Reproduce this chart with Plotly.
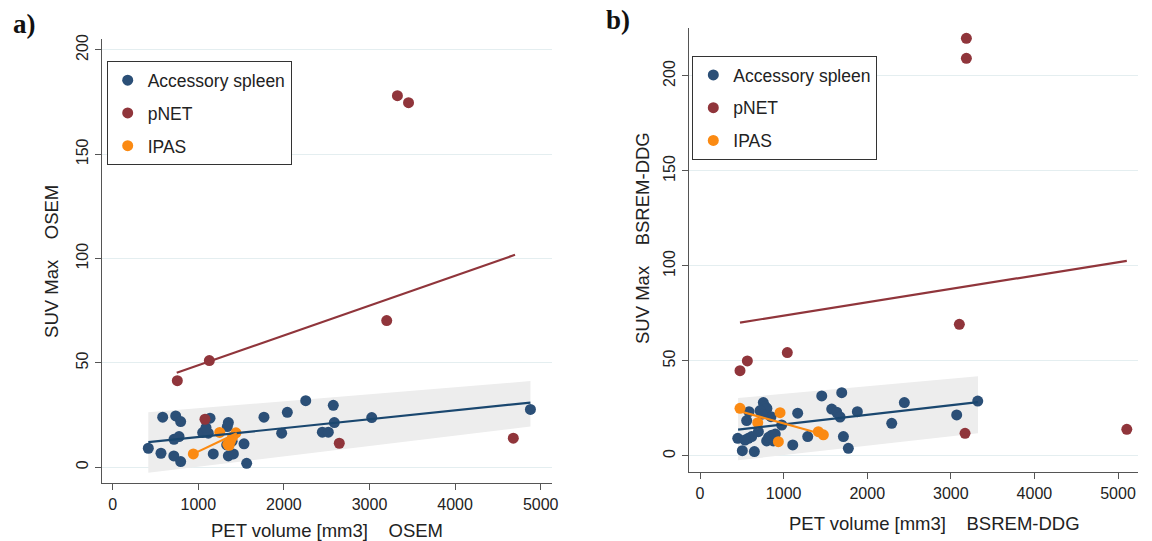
import plotly.graph_objects as go

# ---------------- data: panel a (OSEM) ----------------
a_spleen_x = [416, 584, 564, 736, 794, 716, 775, 714, 794, 1137, 1051, 1117, 1175, 1351, 1339,
              1332, 1351, 1410, 1534, 1565, 1767, 1974, 2040, 2255, 2449, 2519, 2577, 2589, 3026,
              4880, 1365, 1395, 1090]
a_spleen_y = [9.1, 24.0, 6.7, 24.6, 21.9, 13.4, 14.7, 5.4, 2.7, 23.5, 16.6, 16.3, 6.4, 21.4, 19.5,
              10.7, 5.4, 6.4, 11.2, 1.9, 24.0, 16.3, 26.3, 31.9, 16.8, 16.8, 29.7, 21.4, 23.8,
              27.7, 11.5, 12.5, 19.0]
a_pnet_x = [755, 1129, 3201, 1078, 2647, 4680, 3326, 3456]
a_pnet_y = [41.5, 51.1, 70.3, 23.0, 11.5, 13.9, 178.1, 174.7]
a_ipas_x = [942, 1250, 1440, 1400, 1375, 1345, 1360]
a_ipas_y = [6.4, 16.7, 16.5, 14.5, 12.5, 11.0, 10.5]
a_fit_spleen_x = [416, 4880]
a_fit_spleen_y = [12.0, 31.0]
a_fit_pnet_x = [748, 4700]
a_fit_pnet_y = [45.3, 101.8]
a_fit_ipas_x = [942, 1449]
a_fit_ipas_y = [6.4, 16.3]
a_band_x = [416, 4880]
a_band_lo = [-2.6, 19.5]
a_band_hi = [26.3, 41.3]

# ---------------- data: panel b (BSREM-DDG) ----------------
b_spleen_x = [451, 506, 650, 558, 586, 757, 780, 800, 718, 698, 578, 618, 538, 797, 857, 877, 849,
              977, 1109, 1168, 1288, 1456, 1575, 1635, 1675, 1695, 1715, 1774, 1882, 2293, 2444,
              3070, 3322, 740, 820, 900]
b_spleen_y = [9.3, 2.8, 2.3, 18.6, 23.3, 28.1, 26.0, 25.0, 23.9, 12.8, 9.3, 10.2, 8.4, 7.9, 10.9,
              7.9, 20.7, 16.3, 5.8, 22.5, 10.2, 31.6, 24.7, 23.0, 20.5, 33.3, 10.2, 4.0, 23.3, 17.2,
              28.1, 21.6, 28.9, 22.0, 9.8, 11.5]
b_pnet_x = [478, 566, 1044, 3102, 3170, 5105, 3186, 3186]
b_pnet_y = [44.9, 50.0, 54.4, 69.3, 11.9, 14.0, 219.8, 209.3]
b_ipas_x = [478, 690, 957, 937, 1415, 1475]
b_ipas_y = [25.1, 17.5, 22.8, 7.5, 12.8, 11.1]
b_fit_spleen_x = [455, 3325]
b_fit_spleen_y = [13.9, 28.3]
b_fit_pnet_x = [478, 5105]
b_fit_pnet_y = [70.2, 102.7]
b_fit_ipas_x = [478, 1475]
b_fit_ipas_y = [23.5, 11.3]
b_band_x = [455, 3325]
b_band_lo = [-2.3, 12.0]
b_band_hi = [30.5, 42.0]

x_ticks = [0, 1000, 2000, 3000, 4000, 5000]
y_ticks = [0, 50, 100, 150, 200]
group_names = ["Accessory spleen", "pNET", "IPAS"]

# ---------------- styles ----------------
C_BLUE_M = "#2b4f77"
C_BLUE_L = "#1a476f"
C_RED = "#90353b"
C_ORANGE = "#fb8a12"
C_BAND = "#ededed"
C_AXIS = "#555555"
C_GRID = "#e4eef0"
SANS = "Liberation Sans, Arial, Helvetica, sans-serif"
SERIF = "Liberation Serif, Times New Roman, serif"

fig = go.Figure()


def add_panel(xa, ya, leg, tag, band_x, band_lo, band_hi, sx, sy, px, py, ix, iy,
              fsx, fsy, fpx, fpy, fix, fiy):
    fig.add_trace(go.Scatter(
        x=list(band_x) + list(band_x)[::-1], y=list(band_hi) + list(band_lo)[::-1],
        fill="toself", fillcolor=C_BAND, line=dict(width=0), mode="lines",
        hoverinfo="skip", showlegend=False, xaxis=xa, yaxis=ya))
    for name, xs, ys, col in zip(group_names, [sx, px, ix], [sy, py, iy],
                                 [C_BLUE_M, C_RED, C_ORANGE]):
        fig.add_trace(go.Scatter(
            x=xs, y=ys, mode="markers", name=name,
            marker=dict(color=col, size=11, line=dict(width=0)),
            legend=leg, legendgroup=tag + name, showlegend=True,
            xaxis=xa, yaxis=ya))
    for xs, ys, col in zip([fsx, fpx, fix], [fsy, fpy, fiy], [C_BLUE_L, C_RED, C_ORANGE]):
        fig.add_trace(go.Scatter(
            x=xs, y=ys, mode="lines", line=dict(color=col, width=2.2),
            showlegend=False, hoverinfo="skip", xaxis=xa, yaxis=ya))


add_panel("x", "y", "legend", "a", a_band_x, a_band_lo, a_band_hi,
          a_spleen_x, a_spleen_y, a_pnet_x, a_pnet_y, a_ipas_x, a_ipas_y,
          a_fit_spleen_x, a_fit_spleen_y, a_fit_pnet_x, a_fit_pnet_y, a_fit_ipas_x, a_fit_ipas_y)
add_panel("x2", "y2", "legend2", "b", b_band_x, b_band_lo, b_band_hi,
          b_spleen_x, b_spleen_y, b_pnet_x, b_pnet_y, b_ipas_x, b_ipas_y,
          b_fit_spleen_x, b_fit_spleen_y, b_fit_pnet_x, b_fit_pnet_y, b_fit_ipas_x, b_fit_ipas_y)

W, H = 1152, 541
NB = "\u00a0"
TITLE_FONT = dict(family=SANS, size=18.5, color="#222")


def xaxis_cfg(dom, rng, title, anchor):
    return dict(domain=dom, range=rng, anchor=anchor, tickvals=x_ticks,
                showline=True, linecolor=C_AXIS, linewidth=1.3,
                ticks="outside", ticklen=6, tickwidth=1.3, tickcolor=C_AXIS,
                showgrid=False, zeroline=False, automargin=False,
                tickfont=dict(family=SANS, size=16, color="#222"),
                title=dict(text=title, font=TITLE_FONT, standoff=12))


def yaxis_cfg(dom, rng, title, anchor):
    return dict(domain=dom, range=rng, anchor=anchor, tickvals=y_ticks, tickangle=-90,
                showline=True, linecolor=C_AXIS, linewidth=1.3,
                ticks="outside", ticklen=6, tickwidth=1.3, tickcolor=C_AXIS,
                showgrid=True, gridcolor=C_GRID, gridwidth=1.2, zeroline=False,
                automargin=False,
                tickfont=dict(family=SANS, size=16, color="#222"),
                title=dict(text=title, font=TITLE_FONT, standoff=10))


legend_common = dict(
    xanchor="left", yanchor="top", bgcolor="white",
    bordercolor="#333", borderwidth=1, tracegroupgap=7,
    font=dict(family=SANS, size=17.5, color="#222"), itemclick=False)

fig.update_layout(
    width=W, height=H, margin=dict(l=0, r=0, t=0, b=0),
    paper_bgcolor="white", plot_bgcolor="white",
    xaxis=xaxis_cfg([102 / W, 552 / W], [-125, 5132],
                    "PET volume [mm3]" + NB * 4 + "OSEM", "y"),
    yaxis=yaxis_cfg([1 - 483.3 / H, 1 - 39.3 / H], [-7.7, 205.1],
                    "SUV Max" + NB * 4 + "OSEM", "x"),
    xaxis2=xaxis_cfg([689 / W, 1138 / W], [-132, 5239], "", "y2"),
    yaxis2=yaxis_cfg([1 - 472.3 / H, 1 - 27.7 / H], [-8.6, 225.4], "", "x2"),
    legend=dict(x=106.7 / W, y=1 - 61.3 / H, **legend_common),
    legend2=dict(x=692.3 / W, y=1 - 56 / H, **legend_common),
    annotations=[
        dict(text="<b>a)</b>", x=24 / W, y=1 - 24 / H, xref="paper", yref="paper",
             xanchor="center", yanchor="middle", showarrow=False,
             font=dict(family=SERIF, size=27, color="#111")),
        dict(text="<b>b)</b>", x=617.5 / W, y=1 - 20 / H, xref="paper", yref="paper",
             xanchor="center", yanchor="middle", showarrow=False,
             font=dict(family=SERIF, size=27, color="#111")),
        dict(text="PET volume [mm3]" + NB * 4 + "BSREM-DDG", x=934 / W, y=1 - 523.3 / H,
             xref="paper", yref="paper", xanchor="center", yanchor="middle",
             showarrow=False, font=TITLE_FONT),
        dict(text="SUV Max" + NB * 4 + "BSREM-DDG", x=642.5 / W, y=1 - 238.5 / H,
             xref="paper", yref="paper", xanchor="center", yanchor="middle",
             textangle=-90, showarrow=False, font=TITLE_FONT),
    ],
)

fig.write_html("out.html")
